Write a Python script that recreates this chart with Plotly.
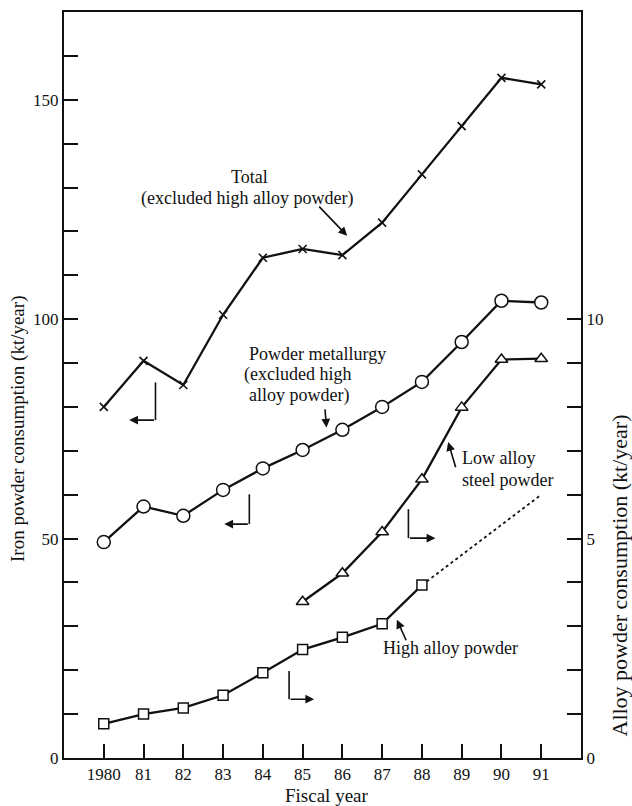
import plotly.graph_objects as go

# ---------------- data ----------------
years = [1980, 1981, 1982, 1983, 1984, 1985, 1986, 1987, 1988, 1989, 1990, 1991]
total = [80, 90.5, 85, 101, 114, 116, 114.6, 122, 133, 144, 155, 153.5]          # kt/year (left)
powder_met = [49.2, 57.3, 55.2, 61.1, 66, 70.2, 74.8, 80, 85.7, 94.8, 104.2, 103.8]  # kt/year (left)

low_years = [1985, 1986, 1987, 1988, 1989, 1990, 1991]
low_alloy = [3.56, 4.21, 5.15, 6.35, 7.99, 9.08, 9.1]                            # kt/year (right)

high_years = [1980, 1981, 1982, 1983, 1984, 1985, 1986, 1987, 1988]
high_alloy = [0.78, 1.0, 1.14, 1.43, 1.94, 2.47, 2.75, 3.06, 3.94]               # kt/year (right)
proj_years = [1988, 1991]
proj_high = [3.94, 6.0]

x_tick_vals = [1980, 1981, 1982, 1983, 1984, 1985, 1986, 1987, 1988, 1989, 1990, 1991]
x_tick_text = ["1980", "81", "82", "83", "84", "85", "86", "87", "88", "89", "90", "91"]
left_tick_vals = list(range(0, 161, 10))
left_tick_text = [str(v) if v % 50 == 0 else "" for v in left_tick_vals]
right_tick_vals = list(range(0, 11))
right_tick_text = [str(v) if v % 5 == 0 else "" for v in right_tick_vals]

FONT = "Liberation Serif"
BLACK = "#111111"

fig = go.Figure()

fig.add_trace(go.Scatter(
    x=years, y=total, mode="lines+markers",
    line=dict(color=BLACK, width=2.3),
    marker=dict(symbol="x-thin", size=8, line=dict(color=BLACK, width=1.6)),
    showlegend=False))

fig.add_trace(go.Scatter(
    x=years, y=powder_met, mode="lines+markers",
    line=dict(color=BLACK, width=2.3),
    marker=dict(symbol="circle", size=13, color="white", line=dict(color=BLACK, width=1.5)),
    showlegend=False))

fig.add_trace(go.Scatter(
    x=proj_years, y=proj_high, mode="lines", yaxis="y2",
    line=dict(color=BLACK, width=1.8, dash="dot"),
    showlegend=False))

fig.add_trace(go.Scatter(
    x=low_years, y=low_alloy, mode="lines+markers", yaxis="y2",
    line=dict(color=BLACK, width=2.3),
    marker=dict(symbol="triangle-up", size=11, color="white", line=dict(color=BLACK, width=1.5)),
    showlegend=False))

fig.add_trace(go.Scatter(
    x=high_years, y=high_alloy, mode="lines+markers", yaxis="y2",
    line=dict(color=BLACK, width=2.3),
    marker=dict(symbol="square", size=10, color="white", line=dict(color=BLACK, width=1.5)),
    showlegend=False))

annotations = []

def text_ann(x, y, text, size=18, xanchor="center", xref="x", yref="y", angle=0):
    annotations.append(dict(x=x, y=y, xref=xref, yref=yref, text=text, showarrow=False,
                            xanchor=xanchor, yanchor="middle", textangle=angle,
                            borderpad=0,
                            font=dict(family=FONT, size=size, color=BLACK)))

def arrow_ann(x_head, y_head, x_tail, y_tail, width=1.6):
    annotations.append(dict(x=x_head, y=y_head, ax=x_tail, ay=y_tail,
                            xref="x", yref="y", axref="x", ayref="y",
                            text="", showarrow=True, arrowhead=2, arrowsize=1.1,
                            arrowwidth=width, arrowcolor=BLACK))

# labels
text_ann(1983.67, 132.4, "Total")
text_ann(1983.6, 127.4, "(excluded high alloy powder)")
arrow_ann(1986.12, 119.0, 1985.38, 126.0)

text_ann(1983.62, 92.0, "Powder metallurgy", xanchor="left")
text_ann(1983.5, 87.3, "(excluded high", xanchor="left")
text_ann(1983.62, 82.6, "alloy powder)", xanchor="left")
arrow_ann(1985.6, 75.3, 1985.56, 79.8)

text_ann(1988.98, 68.3, "Low alloy", xanchor="left")
text_ann(1988.98, 63.3, "steel powder", xanchor="left")
arrow_ann(1988.66, 72.0, 1988.86, 65.9)

text_ann(1988.73, 25.0, "High alloy powder")
arrow_ann(1987.37, 31.5, 1987.62, 26.5)

# L-shaped axis indicators
shapes = []
def l_indicator(x_corner, y_top, y_corner, x_head):
    shapes.append(dict(type="line", xref="x", yref="y", x0=x_corner, x1=x_corner,
                       y0=y_top, y1=y_corner, line=dict(color=BLACK, width=1.6)))
    arrow_ann(x_head, y_corner, x_corner, y_corner)

l_indicator(1981.30, 85.6, 77.0, 1980.64)
l_indicator(1983.66, 60.1, 53.3, 1983.03)
l_indicator(1984.66, 19.8, 13.4, 1985.29)
l_indicator(1987.66, 56.7, 50.1, 1988.34)

# axis titles
text_ann(0.509, -0.05, "Fiscal year", size=19, xref="paper", yref="paper")
text_ann(-0.089, 0.441, "Iron powder consumption (kt/year)", size=19, xref="paper", yref="paper", angle=-90)
text_ann(1.074, 0.245, "Alloy powder consumption (kt/year)", size=22, xref="paper", yref="paper", angle=-90)

axis_font = dict(family=FONT, size=17, color=BLACK)

fig.update_layout(
    width=632, height=806,
    margin=dict(l=64, r=51, t=10, b=48),
    paper_bgcolor="white", plot_bgcolor="white",
    showlegend=False,
    font=dict(family=FONT, color=BLACK),
    xaxis=dict(range=[1979, 1992], tickvals=x_tick_vals, ticktext=x_tick_text,
               ticks="inside", ticklen=14, tickwidth=1.6, tickcolor=BLACK,
               showline=True, linecolor=BLACK, linewidth=2, mirror=True,
               showgrid=False, zeroline=False, tickfont=axis_font),
    yaxis=dict(range=[0, 170], tickvals=left_tick_vals, ticktext=left_tick_text,
               ticks="inside", ticklen=14, tickwidth=1.6, tickcolor=BLACK,
               showline=True, linecolor=BLACK, linewidth=2,
               showgrid=False, zeroline=False, tickfont=axis_font),
    yaxis2=dict(range=[0, 17], tickvals=right_tick_vals, ticktext=right_tick_text,
                overlaying="y", side="right",
                ticks="inside", ticklen=14, tickwidth=1.6, tickcolor=BLACK,
                showline=True, linecolor=BLACK, linewidth=2,
                showgrid=False, zeroline=False, tickfont=axis_font),
    annotations=annotations,
    shapes=shapes,
)

fig.write_html("out.html")
